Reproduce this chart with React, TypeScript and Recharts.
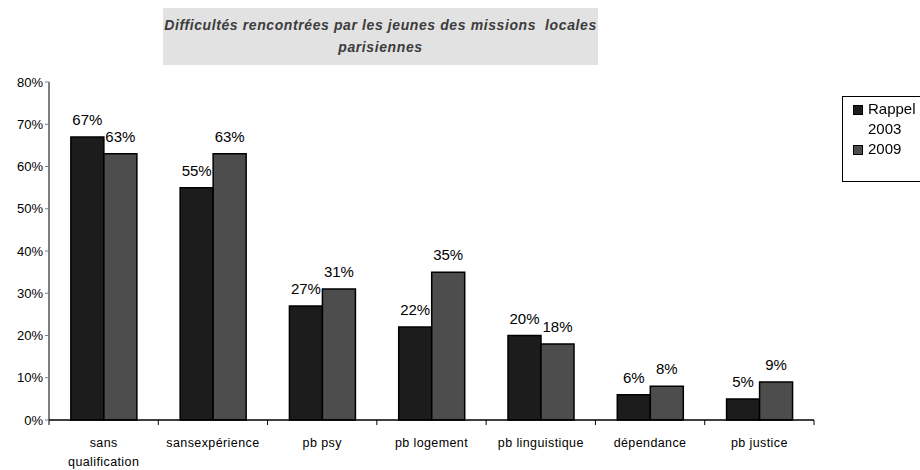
import React from 'react';
import { BarChart, Bar, XAxis, YAxis, LabelList } from 'recharts';

const categories = [
  'sans qualification',
  'sansexpérience',
  'pb psy',
  'pb logement',
  'pb linguistique',
  'dépendance',
  'pb justice',
];
const rappel2003 = [67, 55, 27, 22, 20, 6, 5];
const values2009 = [63, 63, 31, 35, 18, 8, 9];
const yTicks = [0, 10, 20, 30, 40, 50, 60, 70, 80];

const data = categories.map((name, i) => ({
  name,
  r2003: rappel2003[i],
  v2009: values2009[i],
}));

const FONT = '"Liberation Sans", Arial, sans-serif';
const DARK = '#1c1c1c';
const MID = '#4d4d4d';

// long labels wrap onto two lines like in the original sheet,
// tick marks sit between categories (Excel style)
function CategoryTick(props: any) {
  const { x, y, payload, width, visibleTicksCount, index } = props;
  const label: string = payload.value;
  const lines = label.length > 16 ? label.split(' ') : [label];
  const half = width / visibleTicksCount / 2;
  const top = y - 8;
  return (
    <g>
      <line x1={x - half} x2={x - half} y1={top} y2={top + 5} stroke="#000" />
      {index === visibleTicksCount - 1 && (
        <line x1={x + half} x2={x + half} y1={top} y2={top + 5} stroke="#000" />
      )}
      <text
        x={x}
        y={y + 19}
        textAnchor="middle"
        fontSize={12.5}
        fontFamily={FONT}
        letterSpacing={0.4}
        fill="#000"
      >
        {lines.map((l, i) => (
          <tspan key={i} x={x} dy={i === 0 ? 0 : 19}>
            {l}
          </tspan>
        ))}
      </text>
    </g>
  );
}

export default function App() {
  return (
    <div style={{ position: 'fixed', left: 0, top: 0, width: 920, height: 470, background: '#fff', fontFamily: FONT }}>
      <div
        style={{
          position: 'absolute',
          left: 163,
          top: 8,
          width: 435,
          height: 57,
          background: '#e2e2e2',
          color: '#3c3c3c',
          fontSize: 14,
          fontWeight: 'bold',
          fontStyle: 'italic',
          letterSpacing: 0.6,
          textAlign: 'center',
          lineHeight: '22px',
          paddingTop: 6,
          boxSizing: 'border-box',
          whiteSpace: 'nowrap',
        }}
      >
        Difficultés rencontrées par les jeunes des missions&nbsp; locales
        <br />
        parisiennes
      </div>

      <BarChart
        width={920}
        height={470}
        data={data}
        margin={{ top: 82, right: 106, bottom: 0, left: 0 }}
        barCategoryGap="20%"
        barGap={0}
      >
        <YAxis
          width={49}
          domain={[0, 80]}
          ticks={yTicks}
          interval={0}
          tickFormatter={(v: number) => `${v}%`}
          tick={{ fontSize: 13, fill: '#000', fontFamily: FONT }}
          axisLine={{ stroke: '#808080', strokeWidth: 2 }}
          tickLine={{ stroke: '#808080' }}
          tickSize={4}
        />
        <XAxis
          dataKey="name"
          height={50}
          interval={0}
          tick={<CategoryTick />}
          axisLine={{ stroke: '#000', strokeWidth: 1.5 }}
          tickLine={false}
        />
        <Bar dataKey="r2003" fill={DARK} stroke="#000" strokeWidth={1.5} isAnimationActive={false}>
          <LabelList
            dataKey="r2003"
            position="top"
            offset={12}
            formatter={(v: any) => `${v}%`}
            style={{ fontSize: 15, fill: '#000', fontFamily: FONT }}
          />
        </Bar>
        <Bar dataKey="v2009" fill={MID} stroke="#000" strokeWidth={1.5} isAnimationActive={false}>
          <LabelList
            dataKey="v2009"
            position="top"
            offset={12}
            formatter={(v: any) => `${v}%`}
            style={{ fontSize: 15, fill: '#000', fontFamily: FONT }}
          />
        </Bar>
      </BarChart>

      <div
        style={{
          position: 'absolute',
          left: 842,
          top: 96,
          width: 90,
          height: 86,
          border: '1px solid #000',
          boxSizing: 'border-box',
          fontSize: 15,
          color: '#000',
          paddingTop: 2,
          paddingLeft: 10,
          lineHeight: '20px',
        }}
      >
        <div style={{ display: 'flex', alignItems: 'flex-start' }}>
          <span style={{ display: 'inline-block', width: 8, height: 8, background: DARK, border: '1px solid #000', marginTop: 6, marginRight: 5 }} />
          <span>Rappel<br />2003</span>
        </div>
        <div style={{ display: 'flex', alignItems: 'flex-start' }}>
          <span style={{ display: 'inline-block', width: 8, height: 8, background: MID, border: '1px solid #000', marginTop: 6, marginRight: 5 }} />
          <span>2009</span>
        </div>
      </div>
    </div>
  );
}
